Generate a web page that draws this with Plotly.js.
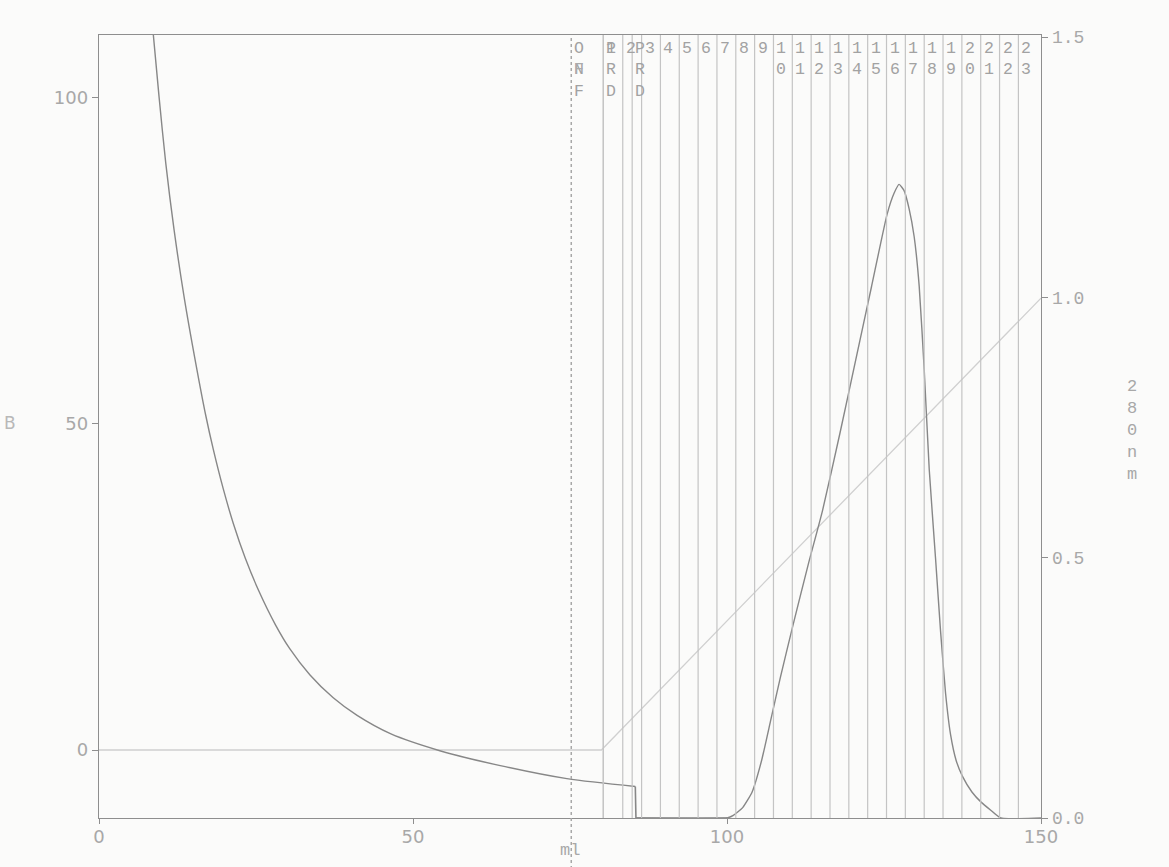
<!DOCTYPE html>
<html>
<head>
<meta charset="utf-8">
<script src="https://cdn.plot.ly/plotly-3.0.1.min.js"></script>
<style>
  html, body { margin: 0; padding: 0; background: #fbfbfa; }
  #chart { width: 1169px; height: 867px; }
</style>
</head>
<body>
<div id="chart"></div>
<script>
// ---- data ----
// decaying trace (left axis)
const decayX = [8.65, 9.56, 10.63, 11.95, 13.55, 15.41, 17.0, 18.2, 19.8, 21.4, 23.3, 25.4, 28.1, 30.4, 33.6, 37.3, 41.1, 46.4, 54.4, 63.9, 74.5, 85.4];
const decayY = [109.7, 100.2, 90.0, 79.8, 69.5, 59.3, 51.3, 46.1, 40.0, 34.7, 29.4, 24.5, 19.2, 15.5, 11.5, 8.0, 5.3, 2.5, -0.15, -2.4, -4.4, -5.6];
// vertical drop of the same trace at its end
const dropX = [85.4, 85.5, 100];
const dropY = [-5.6, -10.43, -10.43];

// gradient (left axis, %B)
const gradX = [0, 80, 150];
const gradY = [0, 0, 69.3];

// UV 280 nm (right axis)
const uvX = [85.5, 100.0, 101.0, 102.5, 104.0, 105.5, 107.0, 108.5, 110.5, 113.0, 115.2, 118.0, 120.5, 123.0, 125.5, 126.6, 127.4, 128.2, 129.0, 129.8, 130.6, 131.4, 132.2, 133.2, 134.0, 134.8, 135.6, 136.5, 137.5, 139.0, 140.5, 142.0, 143.6, 150];
const uvY = [0, 0, 0.005, 0.02, 0.05, 0.11, 0.19, 0.27, 0.37, 0.49, 0.59, 0.74, 0.88, 1.02, 1.16, 1.20, 1.217, 1.205, 1.17, 1.117, 1.022, 0.862, 0.670, 0.50, 0.36, 0.24, 0.16, 0.11, 0.08, 0.05, 0.03, 0.015, 0, 0];

// fraction marks
const fracX = [80.3, 83.4, 86.4, 89.4, 92.4, 95.4, 98.4, 101.4, 104.4, 107.4, 110.4, 113.4, 116.4, 119.4, 122.4, 125.4, 128.4, 131.4, 134.4, 137.4, 140.4, 143.4, 146.4];
const fracLabels = ['1','2','3','4','5','6','7','8','9','10','11','12','13','14','15','16','17','18','19','20','21','22','23'];

// event marks
const eventX = [75.2, 80.3, 84.9];
const eventLabels = ['ONF', 'PRD', 'PRD'];

// axis ticks
const xTicks = [0, 50, 100, 150];
const leftTicks = [0, 50, 100];
const rightTicks = [0.0, 0.5, 1.0, 1.5];
const rightTitle = '280nm';
const xTitle = 'ml';
const leftTitle = 'B';

// ---- styling ----
const axisCol = '#8e8e8e';
const curveCol = '#878787';
const fracCol = '#c4c4c4';
const gradCol = '#d0d0d0';
const textCol = '#a8a8a8';
const mono = 'Liberation Mono, DejaVu Sans Mono, monospace';
const sans = 'DejaVu Sans, sans-serif';

const stack = s => s.split('').join('<br>');

const shapes = [];
const annotations = [];

fracX.forEach((x, i) => {
  shapes.push({type: 'line', xref: 'x', yref: 'paper', x0: x, x1: x, y0: 0, y1: 1,
               line: {color: fracCol, width: 1.2}});
  annotations.push({xref: 'x', yref: 'paper', x: x, y: 1, xanchor: 'left', yanchor: 'top',
    xshift: 1, yshift: -2, showarrow: false, align: 'left', text: stack(fracLabels[i]),
    font: {family: mono, size: 16.5, color: '#a2a2a2'}});
});

eventX.forEach((x, i) => {
  const dashed = i === 0;
  shapes.push({type: 'line', xref: 'x', yref: 'paper', x0: x, x1: x,
               y0: dashed ? -0.065 : 0, y1: 1,
               line: {color: dashed ? '#a8a8a8' : fracCol, width: dashed ? 1.5 : 1.2, dash: dashed ? 'dot' : 'solid'}});
  annotations.push({xref: 'x', yref: 'paper', x: x, y: 1, xanchor: 'left', yanchor: 'top',
    xshift: 1, yshift: -2, showarrow: false, align: 'left', text: stack(eventLabels[i]),
    font: {family: mono, size: 16.5, color: '#a2a2a2'}});
});
// overprinted character on the ONF mark
annotations.push({xref: 'x', yref: 'paper', x: eventX[0], y: 1, xanchor: 'left', yanchor: 'top',
  xshift: 1, yshift: -2, showarrow: false, align: 'left', text: ' <br>F',
  font: {family: mono, size: 16.5, color: '#ababab'}});

// right axis title, stacked
annotations.push({xref: 'paper', yref: 'paper', x: 1.0965, y: 0.495, xanchor: 'center', yanchor: 'middle',
  showarrow: false, text: stack(rightTitle), font: {family: mono, size: 17, color: textCol}});
// x title
annotations.push({xref: 'paper', yref: 'paper', x: 0.5, y: -0.042, xanchor: 'center', yanchor: 'middle',
  showarrow: false, text: xTitle, font: {family: mono, size: 17, color: textCol}});
// left (cut) title
annotations.push({xref: 'paper', yref: 'paper', x: -0.094, y: 0.504, xanchor: 'center', yanchor: 'middle',
  showarrow: false, text: leftTitle, font: {family: sans, size: 17, color: '#b8b8b8'}});

const traces = [
  {x: gradX, y: gradY, type: 'scatter', mode: 'lines', yaxis: 'y',
   line: {color: gradCol, width: 1.3}, hoverinfo: 'skip'},
  {x: decayX, y: decayY, type: 'scatter', mode: 'lines', yaxis: 'y',
   line: {color: curveCol, width: 1.4, shape: 'spline', smoothing: 0.8}, hoverinfo: 'skip'},
  {x: dropX, y: dropY, type: 'scatter', mode: 'lines', yaxis: 'y',
   line: {color: curveCol, width: 1.6}, hoverinfo: 'skip', cliponaxis: false},
  {x: uvX, y: uvY, type: 'scatter', mode: 'lines', yaxis: 'y2',
   line: {color: curveCol, width: 1.4, shape: 'spline', smoothing: 0.5}, hoverinfo: 'skip'}
];

const layout = {
  width: 1169, height: 867,
  margin: {l: 99, r: 128, t: 35, b: 49},
  paper_bgcolor: '#fbfbfa', plot_bgcolor: 'rgba(0,0,0,0)',
  showlegend: false,
  xaxis: {range: [0, 150], tickvals: xTicks, ticktext: xTicks.map(String),
          showgrid: false, zeroline: false, showline: true, mirror: true,
          linecolor: axisCol, linewidth: 1.3, ticks: 'outside', ticklen: 5, tickcolor: axisCol,
          ticklabelstandoff: -3,
          tickfont: {family: sans, size: 18, color: textCol}},
  yaxis: {range: [-10.43, 109.66], tickvals: leftTicks, ticktext: leftTicks.map(String),
          showgrid: false, zeroline: false, showline: true,
          linecolor: axisCol, linewidth: 1.3, ticks: 'outside', ticklen: 6, tickcolor: axisCol,
          tickfont: {family: sans, size: 18, color: textCol}},
  yaxis2: {range: [0, 1.504], overlaying: 'y', side: 'right', tickvals: rightTicks,
           ticktext: rightTicks.map(v => v.toFixed(1)),
           showgrid: false, zeroline: false, showline: true,
           linecolor: axisCol, linewidth: 1.3, ticks: 'outside', ticklen: 6, tickcolor: axisCol,
           tickfont: {family: mono, size: 18, color: textCol}},
  shapes: shapes,
  annotations: annotations
};

Plotly.newPlot('chart', traces, layout, {displayModeBar: false, staticPlot: true});
</script>
</body>
</html>
